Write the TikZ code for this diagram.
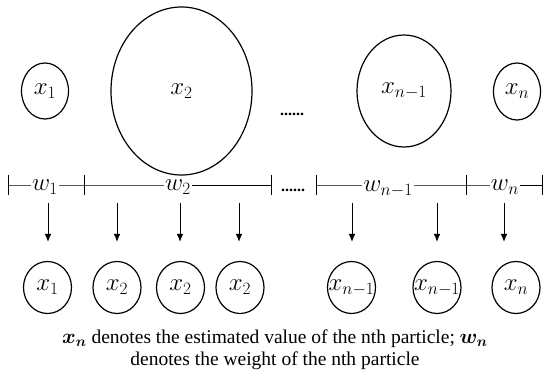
\documentclass[tikz,border=0pt]{standalone}
\usepackage{fontspec}
\setmainfont{Liberation Serif}
\usepackage{amsmath}
\usepackage{bm}
\usetikzlibrary{shapes.geometric,arrows.meta}
\tikzset{
  part/.style={draw,ellipse,line width=1.2pt,inner sep=0pt},
  small/.style={part,minimum width=48pt,minimum height=52pt},
  tick/.style={line width=0.7pt},
  wlab/.style={fill=white,inner sep=1pt,font=\fontsize{24}{24}\selectfont},
  xlab/.style={font=\fontsize{24}{24}\selectfont},
  arr/.style={line width=1pt,-{Latex[length=8pt,width=6.5pt]},shorten >=20pt},
  dotsl/.style={font=\bfseries\fontsize{16}{16}\selectfont,inner sep=0pt}
}
\begin{document}
\begin{tikzpicture}[x=1pt,y=-1pt]
\useasboundingbox (0,0) rectangle (550,377);
% top particles
\node[part,minimum width=47pt,minimum height=56pt,xlab] (t1) at (45,91) {$x_1$};
\node[part,minimum width=141pt,minimum height=168pt,xlab] (t2) at (181.5,91) {$x_2$};
\node[part,minimum width=94pt,minimum height=112pt,xlab] (t3) at (404,91) {$x_{n-1}$};
\node[part,minimum width=47pt,minimum height=57pt,xlab] (t4) at (517,91.5) {$x_n$};
\node[dotsl] (d1) at (292,114) {......};
% weight bars
\coordinate (a0) at (8,185);
\coordinate (a1) at (84,185);
\coordinate (a2) at (271,185);
\coordinate (b0) at (316,185);
\coordinate (b1) at (466,185);
\coordinate (b2) at (542,185);
\foreach \p in {a0,a1,a2,b0,b1,b2}{
  \draw[tick] ([yshift=-10pt]\p) -- ([yshift=10pt]\p);
}
\draw[tick] (a0) -- (a1) -- (a2);
\draw[tick] (b0) -- (b1) -- (b2);
\node[wlab] (w1) at (45,187) {$w_1$};
\node[wlab] (w2) at (178,187) {$w_2$};
\node[wlab] (w3) at (388,189) {$w_{n-1}$};
\node[wlab] (w4) at (505,187) {$w_n$};
\node[dotsl] (d2) at (293,190) {......};
% bottom particles
\node[small,xlab] (b1n) at (47.5,287.5) {\makebox[0pt]{$x_1$}};
\node[small,xlab] (b2n) at (117,287.5) {\makebox[0pt]{$x_2$}};
\node[small,xlab] (b3n) at (180.5,287.5) {\makebox[0pt]{$x_2$}};
\node[small,xlab] (b4n) at (240,287.5) {\makebox[0pt]{$x_2$}};
\node[small,xlab] (b5n) at (351.5,287.5) {\makebox[0pt]{$x_{n-1}$}};
\node[small,xlab] (b6n) at (437,287.5) {\makebox[0pt]{$x_{n-1}$}};
\node[small,xlab] (b7n) at (516,287.5) {\makebox[0pt]{$x_n$}};
% arrows
\foreach \n/\x in {b1n/48,b2n/117,b3n/180,b4n/239,b5n/352,b6n/437,b7n/504}{
  \coordinate (s\n) at (\x,203);
  \draw[arr] (s\n) -- (\x,262);
}
% caption
\node[font=\fontsize{19.5}{22}\selectfont,align=center,inner sep=0pt] (cap) at (275,350)
  {$\bm{x_n}$ denotes the estimated value of the nth particle; $\bm{w_n}$\\denotes the weight of the nth particle};
\end{tikzpicture}
\end{document}
